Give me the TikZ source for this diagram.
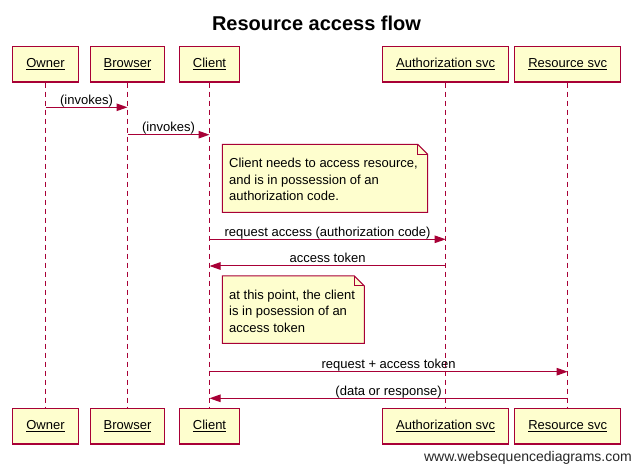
\documentclass[tikz,border=0pt]{standalone}
\usepackage{fontspec}
\setmainfont{Liberation Sans}
\usepackage{tikz}
\usetikzlibrary{arrows.meta}
\definecolor{wsdred}{HTML}{A80036}
\definecolor{wsdyellow}{HTML}{FEFECE}

\begin{document}
\begin{tikzpicture}[x=1pt,y=-1pt,
    actor/.style={draw=wsdred,fill=wsdyellow,line width=1.1pt,minimum height=35.5pt,
      inner xsep=13.5pt,font=\fontsize{13}{15}\selectfont},
    lifeline/.style={draw=wsdred,line width=1pt,dash pattern=on 5pt off 4pt},
    msg/.style={draw=wsdred,line width=1pt,-{Triangle[length=11pt,width=7.5pt]}},
    msglabel/.style={midway,above,inner sep=0pt,text depth=2.5pt,font=\fontsize{13}{15}\selectfont},
    notebox/.style={draw=wsdred,fill=wsdyellow,line width=1pt},
    notetext/.style={anchor=north west,inner sep=0pt,align=left,font=\fontsize{13}{16.7}\selectfont}]
  \fill[white] (0,0) rectangle (633,465);
  \node[anchor=base,font=\fontsize{20}{24}\selectfont\bfseries] (title) at (316.5,30.7) {Resource access flow};

  \node[actor] (owner) at (45.5,64.3) {\underline{Owner}};
  \node[actor] (browser) at (127.5,64.3) {\underline{Browser}};
  \node[actor] (client) at (209.5,64.3) {\underline{Client}};
  \node[actor] (auth) at (445.7,64.3) {\underline{Authorization svc}};
  \node[actor] (resource) at (567.7,64.3) {\underline{Resource svc}};

  \node[actor] (owner_b) at (45.5,426.3) {\underline{Owner}};
  \node[actor] (browser_b) at (127.5,426.3) {\underline{Browser}};
  \node[actor] (client_b) at (209.5,426.3) {\underline{Client}};
  \node[actor] (auth_b) at (445.7,426.3) {\underline{Authorization svc}};
  \node[actor] (resource_b) at (567.7,426.3) {\underline{Resource svc}};

  \draw[lifeline] (owner) -- (owner_b);
  \draw[lifeline] (browser) -- (browser_b);
  \draw[lifeline] (client) -- (client_b);
  \draw[lifeline] (auth) -- (auth_b);
  \draw[lifeline] (resource) -- (resource_b);

  \draw[msg] (owner |- 0,107.3) -- (browser |- 0,107.3) node[msglabel]{(invokes)};
  \draw[msg] (browser |- 0,134.7) -- (client |- 0,134.7) node[msglabel]{(invokes)};

  \draw[notebox] (222.3,144.3) -- (417.7,144.3) -- (427.7,154.3) -- (427.7,212.3) -- (222.3,212.3) -- cycle;
  \draw[notebox,fill=none] (417.7,144.3) -- (417.7,154.3) -- (427.7,154.3);
  \node[notetext] (note1) at (229,157.8) {Client needs to access resource,\\and is in possession of an\\authorization code.};

  \draw[msg] (client |- 0,239.3) -- (auth |- 0,239.3) node[msglabel]{request access (authorization code)};
  \draw[msg] (auth |- 0,266) -- (client |- 0,266) node[msglabel]{access token};

  \draw[notebox] (222.3,276) -- (354.3,276) -- (364.3,286) -- (364.3,343.3) -- (222.3,343.3) -- cycle;
  \draw[notebox,fill=none] (354.3,276) -- (354.3,286) -- (364.3,286);
  \node[notetext] (note2) at (229,289.5) {at this point, the client\\is in posession of an\\access token};

  \draw[msg] (client |- 0,371.7) -- (resource |- 0,371.7) node[msglabel]{request + access token};
  \draw[msg] (resource |- 0,398.3) -- (client |- 0,398.3) node[msglabel]{(data or response)};

  \node[anchor=base east,inner sep=0pt,text=black!85,font=\fontsize{14}{16}\selectfont] (credit) at (632,461.5) {www.websequencediagrams.com};
\end{tikzpicture}
\end{document}
